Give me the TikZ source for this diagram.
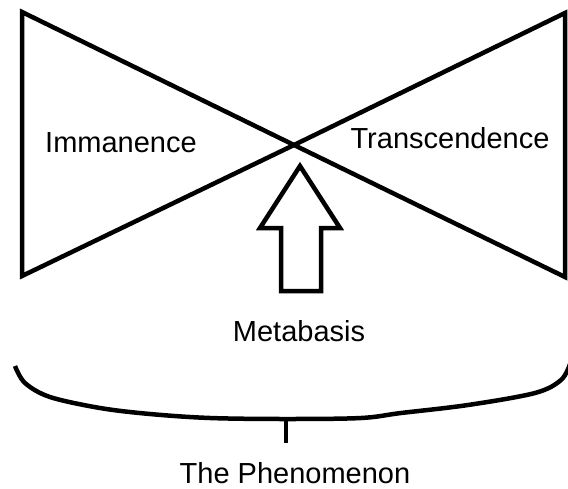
\documentclass[tikz,border=0pt]{standalone}
\usepackage{fontspec}
\setmainfont{Liberation Sans}
\begin{document}
\begin{tikzpicture}[x=1pt,y=-1pt,
  stroke/.style={line width=4.5pt,line join=miter,black},
  brace/.style={line width=4.5pt,line cap=butt,black},
  label/.style={anchor=base,inner sep=0pt,font=\fontsize{29}{34}\selectfont}]
\useasboundingbox (0,0) rectangle (568,488);
% bow-tie corners
\coordinate (LT) at (22,12);
\coordinate (LB) at (22,276);
\coordinate (X) at (294,145);
\coordinate (RT) at (565,13);
\coordinate (RB) at (565,277);
\draw[stroke] (LT) -- (X) -- (LB) -- cycle;
\draw[stroke] (RT) -- (X) -- (RB) -- cycle;
% upward block arrow
\coordinate (tip) at (300,166);
\draw[stroke] (tip) -- (340,228) -- (321,228) -- (321,291) -- (281,291) -- (281,228) -- (260,228) -- cycle;
% labels
\node[label] (imm) at (121,152) {Immanence};
\node[label] (tra) at (450,148) {Transcendence};
\node[label] (met) at (299,341) {Metabasis};
\node[label] (phe) at (295,483) {The Phenomenon};
% brace
\draw[brace] plot[smooth,tension=0.55] coordinates {(15,366) (25,383) (50,397) (100,408) (150,414) (210,418) (286,419) (361,418) (401,413) (468,405) (535,393) (561,380) (570,364)};
\coordinate (stemtop) at (286,418);
\coordinate (stembot) at (286,443);
\draw[brace] (stemtop) -- (stembot);
\end{tikzpicture}
\end{document}
